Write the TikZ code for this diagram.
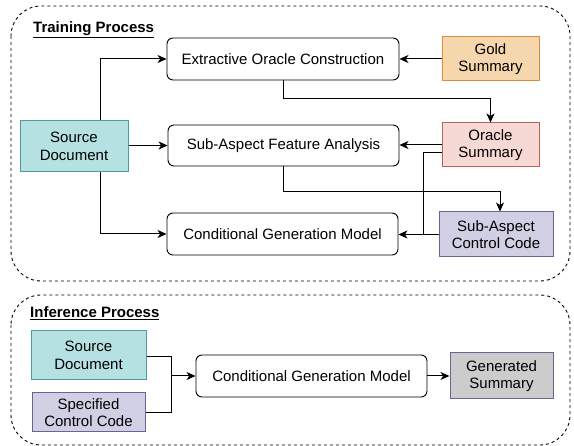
\documentclass[tikz,border=0pt]{standalone}
\usepackage{fontspec}
\setmainfont{Liberation Sans}
\usetikzlibrary{arrows.meta}
\definecolor{tealF}{HTML}{B6E1E3}
\definecolor{tealD}{HTML}{4E9CA2}
\definecolor{orF}{HTML}{F6D6AC}
\definecolor{orD}{HTML}{D6913A}
\definecolor{rdF}{HTML}{F6D9D5}
\definecolor{rdD}{HTML}{C0614F}
\definecolor{puF}{HTML}{D1CFE3}
\definecolor{puD}{HTML}{6A6590}
\definecolor{grF}{HTML}{CCCCCC}
\begin{document}
\begin{tikzpicture}[x=1pt,y=-1pt,
  txt/.style={font=\fontsize{15}{17.5}\selectfont, align=center, inner sep=0pt},
  proc/.style={txt, draw, rounded corners=6pt, line width=0.9pt},
  flat/.style={txt, draw, line width=1pt},
  arr/.style={-{Stealth[length=9pt,width=8pt,inset=2.5pt]}, line width=1pt},
  ln/.style={line width=1pt},
  frame/.style={dashed, dash pattern=on 3pt off 3pt, line width=0.9pt, rounded corners=30pt},
  ttl/.style={font=\fontsize{15}{17.5}\selectfont\bfseries, inner sep=0pt, anchor=west}]
\useasboundingbox (0,0) rectangle (574,446);

% frames
\draw[frame] (11,6) rectangle (570,281);
\draw[frame] (11,295) rectangle (570,445);
\node[ttl] (tt) at (33,30) {\underline{Training Process}};
\node[ttl] (it) at (30,313) {\underline{Inference Process}};

% training nodes
\node[proc, minimum width=232pt, minimum height=42pt] (eoc) at (283,59) {Extractive Oracle Construction};
\node[flat, fill=orF, draw=orD, minimum width=97pt, minimum height=44pt] (gold) at (490.5,59) {Gold\\Summary};
\node[flat, fill=tealF, draw=tealD, minimum width=108pt, minimum height=51pt] (src) at (74,146.5) {Source\\Document};
\node[proc, minimum width=231pt, minimum height=41pt] (saf) at (283.5,145.5) {Sub-Aspect Feature Analysis};
\node[flat, fill=rdF, draw=rdD, minimum width=97pt, minimum height=44pt] (orc) at (490.5,145) {Oracle\\Summary};
\node[proc, minimum width=231pt, minimum height=42pt] (cgt) at (282.5,234) {Conditional Generation Model};
\node[flat, fill=puF, draw=puD, minimum width=114pt, minimum height=45pt] (cc) at (496,234.5) {Sub-Aspect\\Control Code};

% training connectors
\draw[arr] ([xshift=26pt]src.north) |- (eoc.west);
\draw[arr] (src.east |- saf.west) -- (saf.west);
\draw[arr] ([xshift=26pt]src.south) |- (cgt.west);
\draw[arr] (gold.west) -- (eoc.east);
\draw[arr] (eoc.south) -- ++(0,18) -| (orc.north);
\draw[arr] (orc.west) -- (orc.west -| saf.east);
\coordinate (j) at (423,234);
\draw[ln] ([yshift=-8pt]orc.west) -| (j);
\draw[arr] (cc.west) -- (cc.west -| cgt.east);
\draw[arr] (saf.south) -- ++(0,25) -| ([xshift=4pt]cc.north);

% inference nodes
\node[flat, fill=tealF, draw=tealD, minimum width=115pt, minimum height=49pt] (srci) at (88.5,355.5) {Source\\Document};
\node[flat, fill=puF, draw=puD, minimum width=113pt, minimum height=39pt] (spec) at (88.5,412.5) {Specified\\Control Code};
\node[proc, minimum width=231pt, minimum height=42pt] (cgi) at (311.5,376) {Conditional Generation Model};
\node[flat, fill=grF, draw=puD, minimum width=103pt, minimum height=46pt] (gen) at (501.5,376) {Generated\\Summary};

% inference connectors
\coordinate (m) at (171,376);
\draw[ln] ([yshift=-1.5pt]srci.east) -| (m);
\draw[ln] (spec.east) -| (m);
\draw[arr] (m) -- (cgi.west);
\draw[arr] (cgi.east) -- (gen.west);
\end{tikzpicture}
\end{document}
